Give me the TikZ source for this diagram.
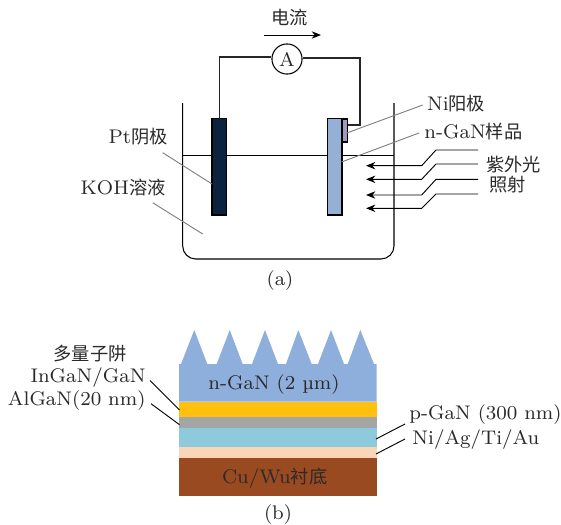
\documentclass[tikz,border=0pt]{standalone}
\usepackage{fontspec}
\newfontfamily\cjk{Noto Sans CJK SC}
\newcommand{\zh}[1]{{\cjk\fontsize{7.4}{7.4}\selectfont #1}}
\definecolor{ink}{HTML}{2A2A2A}
\definecolor{ngan}{HTML}{8EAEDC}
\definecolor{mqw}{HTML}{FFC010}
\definecolor{algan}{HTML}{A5A5A5}
\definecolor{pgan}{HTML}{8CCADC}
\definecolor{metal}{HTML}{FBD5B8}
\definecolor{sub}{HTML}{9A4A20}
\definecolor{pt}{HTML}{0C2340}
\definecolor{sample}{HTML}{95B0D5}
\definecolor{ni}{HTML}{A797BF}
\usetikzlibrary{arrows.meta}
\tikzset{
  x=0.75pt,y=-0.75pt,
  lab/.style={inner sep=0pt,text=ink,scale=1.85,font=\fontsize{8}{9}\selectfont},
  wire/.style={draw=black!85,line width=0.8pt},
  leadg/.style={draw=black!50,line width=0.7pt},
  leadk/.style={draw=black,line width=0.7pt},
  ray/.style={draw=black,line width=0.7pt,-{Stealth[length=7pt,width=5.5pt]}},
  plate/.style={draw=black,line width=0.8pt,inner sep=0pt,minimum width=0pt},
}
\begin{document}
\begin{tikzpicture}
\useasboundingbox (0,0) rectangle (561,525);
% (a) beaker
\draw[wire,black] (182.7,103) -- (182.7,246) arc[start angle=180,end angle=270,radius=9.75pt] -- (381,259) arc[start angle=270,end angle=360,radius=9.75pt] -- (394,103);
\coordinate (wl) at (182.7,155.7);
\coordinate (wr) at (394,155.7);
\draw[wire,black] (wl) -- (wr);
% electrodes
\path[plate,fill=pt] (212,118.5) rectangle (226.7,215);
\coordinate (ptTop) at (219.3,118.5);
\path[plate,fill=sample] (327.7,118.5) rectangle (342,215);
\path[plate,fill=ni] (342,119) rectangle (347.7,142);
\coordinate (niR) at (347.7,125);
% ammeter
\node[lab,draw=black,line width=0.8pt,circle,minimum size=12.2pt] (amp) at (287,59) {A};
\draw[wire] (amp.west |- 0,57) -- (219.3,57) -- (ptTop);
\draw[wire] (amp.east |- 0,58) -- (360,58) -- (360,125) -- (niR);
\coordinate (ia) at (264,35);
\coordinate (ib) at (321,35);
\draw[ray] (ia) -- (ib);
\node[lab] (cur) at (289.5,18) {\zh{电流}};
% right labels
\node[lab,anchor=west] (lni) at (426.7,104) {Ni\zh{阳极}};
\node[lab,anchor=west] (lng) at (424,132) {n-GaN\zh{样品}};
\node[lab,anchor=west] (luv1) at (485.7,165) {\zh{紫外光}};
\node[lab,anchor=west] (luv2) at (489,185) {\zh{照射}};
\coordinate (lnia) at (346.7,133);
\coordinate (lnib) at (422.7,105);
\coordinate (lnga) at (341.5,162);
\coordinate (lngb) at (419,133);
\draw[leadg] (lnia) -- (lnib);
\draw[leadg] (lnga) -- (lngb);
% rays
\foreach \i/\ya/\yb in {1/150/165.7,2/164/179.3,3/179.3/195,4/194/208.3}{
  \coordinate (rs\i) at (478,\ya);
  \coordinate (rt\i) at (366,\yb);
  \draw[ray] (rs\i) -- (436,\ya) -- (421.7,\yb) -- (rt\i);
}
% left labels
\node[lab,anchor=east] (lpt) at (168,137) {Pt\zh{阴极}};
\node[lab,anchor=east] (lkoh) at (166,187.7) {KOH\zh{溶液}};
\coordinate (lpa) at (162.7,152.7);
\coordinate (lpb) at (212,184);
\coordinate (lka) at (152.7,202.7);
\coordinate (lkb) at (202.7,234);
\draw[leadg] (lpa) -- (lpb);
\draw[leadg] (lka) -- (lkb);
\node[lab] (capa) at (280,281) {(a)};
% (b) stack
\fill[ngan] (179,401.7) -- (179,364) -- (181,364) -- (194.3,330) -- (207.3,364) -- (216.7,364) -- (229.7,330) -- (242.7,364) -- (252,364) -- (265,330) -- (278,364) -- (286,364) -- (298.3,330) -- (311.7,364) -- (318,364) -- (331,330) -- (344,364) -- (347.7,364) -- (360.3,330) -- (374,364) -- (376.7,364) -- (376.7,401.7) -- cycle;
\fill[mqw] (179,401.7) rectangle (376.7,417);
\fill[algan] (179,417) rectangle (376.7,427.7);
\fill[pgan] (179,427.7) rectangle (376.7,446.7);
\fill[metal] (179,446.7) rectangle (376.7,457.7);
\fill[sub] (179,457.7) rectangle (376.7,495.7);
\node[lab] (tn) at (274,384.7) {n-GaN (2 \textmu m)};
\node[lab] (tc) at (274.7,478) {Cu/Wu\zh{衬底}};
\node[lab] (tm) at (90,354) {\zh{多量子阱}};
\node[lab,anchor=east] (ti) at (146,377.7) {InGaN/GaN};
\node[lab,anchor=east] (ta) at (146,401) {AlGaN(20 nm)};
\node[lab,anchor=west] (tp) at (409,415) {p-GaN (300 nm)};
\node[lab,anchor=west] (tm2) at (412,440) {Ni/Ag/Ti/Au};
\coordinate (a1) at (150,380.5); \coordinate (b1) at (179.5,410);
\coordinate (a2) at (151,403.7); \coordinate (b2) at (179.5,424.7);
\coordinate (a3) at (376,439); \coordinate (b3) at (405,424);
\coordinate (a4) at (376,454); \coordinate (b4) at (405,439);
\draw[leadk] (a1) -- (b1);
\draw[leadk] (a2) -- (b2);
\draw[leadk] (a3) -- (b3);
\draw[leadk] (a4) -- (b4);
\node[lab] (capb) at (278,515) {(b)};
\end{tikzpicture}
\end{document}
